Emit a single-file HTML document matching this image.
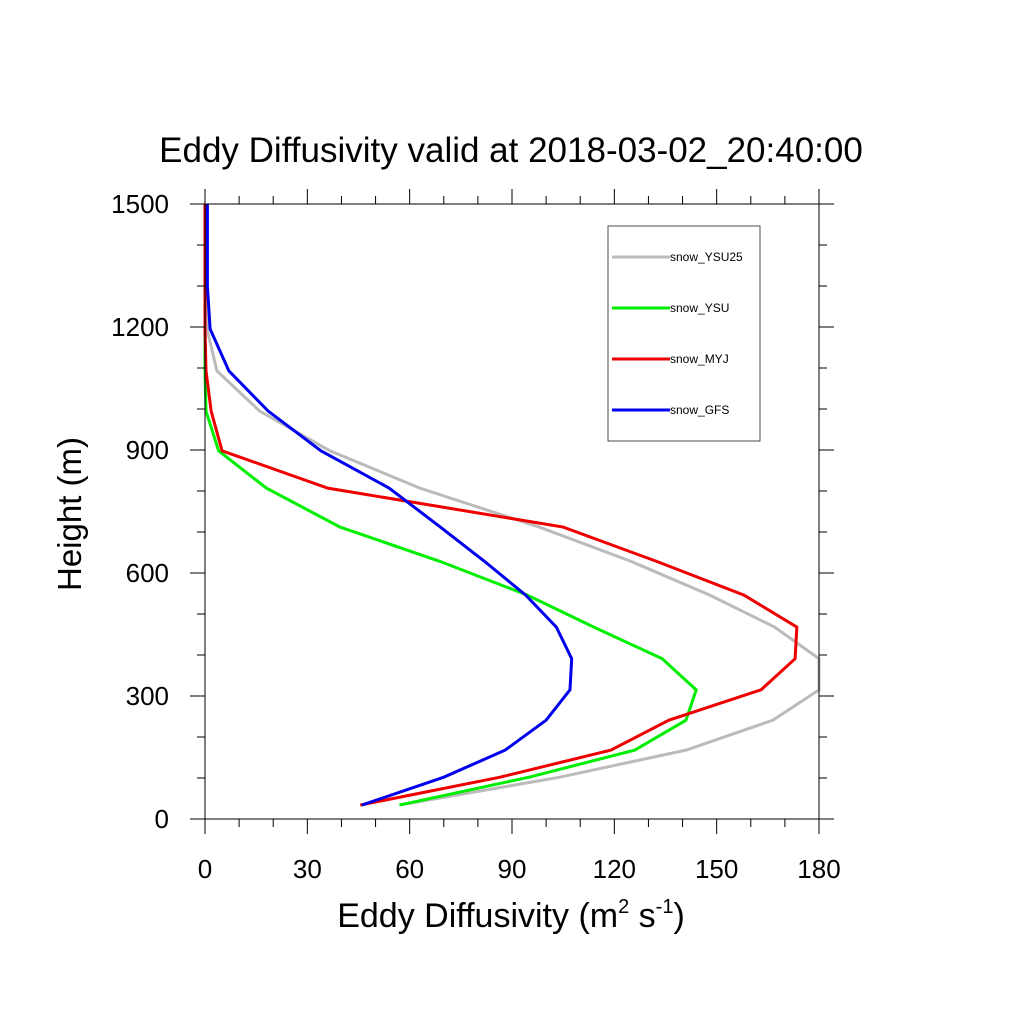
<!DOCTYPE html>
<html><head><meta charset="utf-8"><style>
body{margin:0;background:#fff}
svg text{font-family:"Liberation Sans",Arial,sans-serif;fill:#000}
</style></head><body>
<svg id="chart" width="1024" height="1024" viewBox="0 0 1024 1024" xmlns="http://www.w3.org/2000/svg">
<rect width="1024" height="1024" fill="#fff"/>
<text x="511" y="162" font-size="35" text-anchor="middle">Eddy Diffusivity valid at 2018-03-02_20:40:00</text>
<g id="series"></g>
<g id="axes"></g>
<rect x="205" y="204" width="614" height="615" fill="none" stroke="#000" stroke-width="1"/>
<text transform="translate(81,514) rotate(-90)" font-size="33" text-anchor="middle">Height (m)</text>
<text x="511" y="927" font-size="34" text-anchor="middle">Eddy Diffusivity (m<tspan font-size="20" dy="-14">2</tspan><tspan dy="14"> s</tspan><tspan font-size="20" dy="-14">-1</tspan><tspan dy="14">)</tspan></text>
<g>
<rect x="608" y="226" width="152" height="215" fill="#fff" stroke="#000" stroke-width="0.7"/>
<g id="legend-items"></g>
</g>
</svg>
<script>
const heights=[34,102,168,241,315,391,468,546,628,712,807,898,995,1093,1195,1300,1400,1500];
const ysu25=[57,104,141,166.5,180,180,167,148,125,98,63,36.6,16,3.5,0.6,0.5,0.5,0.5];
const ysu=[57,95,126,141,144,134,114,94.5,69,39.6,18,4,0.3,0,0,0,0,0];
const myj=[45.5,86.5,119,136,163,173,173.5,158,132.5,105,36,5,1.8,0.3,0,0,0,0];
const gfs=[46,70,88,100,107,107.5,103,94,82,69,54,34,18.5,7,1.5,0.7,0.7,0.7];
const seriesNames=["snow_YSU25","snow_YSU","snow_MYJ","snow_GFS"];
const seriesColors=["#bbbbbb","#00ee00","#ee0000","#0000ee"];
const xTicks=[0,30,60,90,120,150,180];
const yTicks=[0,300,600,900,1200,1500];
const NS="http://www.w3.org/2000/svg";
function xs(v){return 205+v*(614/180);}
function ys(v){return 819-v*(615/1500);}
const sg=document.getElementById('series');
[ysu25,ysu,myj,gfs].forEach((vals,i)=>{
  const p=document.createElementNS(NS,'polyline');
  
  
  p.setAttribute('points',vals.map((v,j)=>xs(v)+','+ys(heights[j])).join(' '));
  p.setAttribute('fill','none');p.setAttribute('stroke',seriesColors[i]);p.setAttribute('stroke-width','3');
  sg.appendChild(p);
});
const ag=document.getElementById('axes');
function line(x1,y1,x2,y2){const l=document.createElementNS(NS,'line');l.setAttribute('x1',x1);l.setAttribute('y1',y1);l.setAttribute('x2',x2);l.setAttribute('y2',y2);l.setAttribute('stroke','#000');l.setAttribute('stroke-width','1');ag.appendChild(l);return l;}
for(let v=0;v<=180;v+=10){const X=xs(v);const big=v%30===0;const L=big?15:8;line(X,819,X,819+L);line(X,204,X,204-L);}
for(let v=0;v<=1500;v+=100){const Y=ys(v);const big=v%300===0;const L=big?15:8;line(205,Y,205-L,Y);line(819,Y,819+L,Y);}
xTicks.forEach(v=>{const t=document.createElementNS(NS,'text');


t.setAttribute('x',xs(v));t.setAttribute('y',878);t.setAttribute('font-size','26');t.setAttribute('text-anchor','middle');t.textContent=v;ag.appendChild(t);});
yTicks.forEach(v=>{const t=document.createElementNS(NS,'text');


t.setAttribute('x',169);t.setAttribute('y',ys(v)+9);t.setAttribute('font-size','26');t.setAttribute('text-anchor','end');t.textContent=v;ag.appendChild(t);});
const lg=document.getElementById('legend-items');
seriesNames.forEach((n,i)=>{const y=257+i*51;
const l=document.createElementNS(NS,'line');


l.setAttribute('x1',612);l.setAttribute('x2',670);l.setAttribute('y1',y);l.setAttribute('y2',y);l.setAttribute('stroke',seriesColors[i]);l.setAttribute('stroke-width','3');lg.appendChild(l);
const t=document.createElementNS(NS,'text');


t.setAttribute('x',670);t.setAttribute('y',y+4);t.setAttribute('font-size','12');t.textContent=n;lg.appendChild(t);});
</script>
</body></html>
